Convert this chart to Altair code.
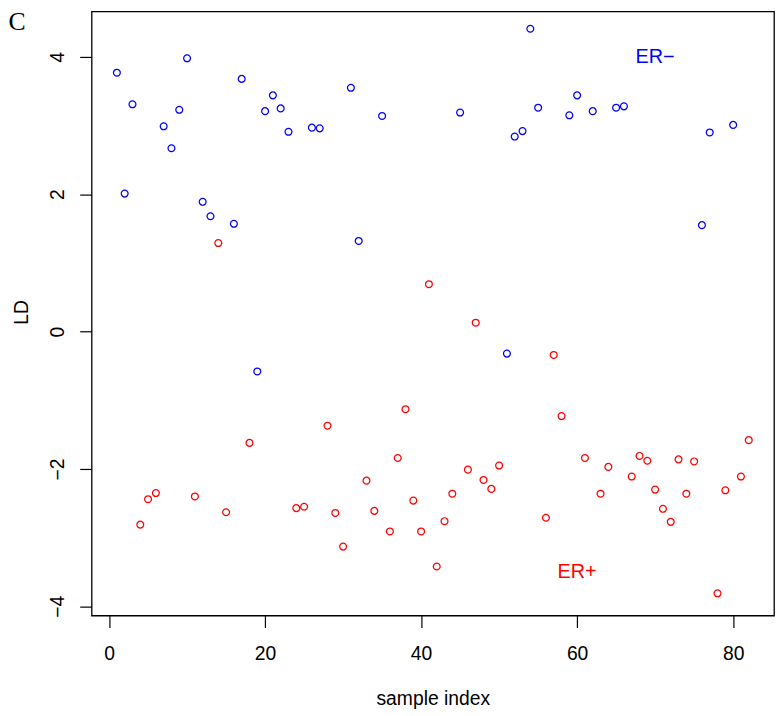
import altair as alt
import pandas as pd

# ---- data ----
sample_index = list(range(1, 83))
ld_values = [
    3.77, 2.01, 3.31, -2.81, -2.44, -2.35, 2.99, 2.67, 3.23, 3.98,
    -2.40, 1.89, 1.68, 1.29, -2.63, 1.57, 3.68, -1.62, -0.58, 3.21,
    3.44, 3.25, 2.91, -2.57, -2.55, 2.97, 2.96, -1.37, -2.64, -3.13,
    3.55, 1.32, -2.17, -2.61, 3.14, -2.91, -1.84, -1.13, -2.46, -2.91,
    0.69, -3.42, -2.76, -2.36, 3.19, -2.01, 0.13, -2.16, -2.29, -1.95,
    -0.32, 2.84, 2.92, 4.41, 3.26, -2.71, -0.34, -1.23, 3.15, 3.44,
    -1.84, 3.21, -2.36, -1.97, 3.26, 3.28, -2.11, -1.81, -1.88, -2.30,
    -2.58, -2.77, -1.86, -2.36, -1.89, 1.55, 2.90, -3.81, -2.31, 3.01,
    -2.11, -1.58,
]
group_codes = (
    "bbbrrrbbbb" "rbbrrbbrbb" "bbbrrbbrrr" "bbrrbrrrrr"
    "rrrrbrrrrr" "bbbbbrrrbb" "rbrrbbrrrr" "rrrrrbbrrb" "rr"
)
groups = ["ER−" if c == "b" else "ER+" for c in group_codes]

label_x = [70, 60]
label_y = [4.0, -3.5]
label_text = ["ER−", "ER+"]
label_color = ["blue", "red"]

x_ticks = [0, 20, 40, 60, 80]
y_ticks = [-4, -2, 0, 2, 4]

df = pd.DataFrame({"index": sample_index, "LD": ld_values, "group": groups})
df_lab = pd.DataFrame({"x": label_x, "y": label_y, "text": label_text, "color": label_color})

FONT = "Liberation Sans"
FS = 19.5

xscale = alt.Scale(domain=[-2.24, 85.24], nice=False, zero=False)
yscale = alt.Scale(domain=[-4.134, 4.663], nice=False, zero=False)

points = alt.Chart(df).mark_point(
    shape="circle", filled=False, size=48, strokeWidth=1.25, opacity=1
).encode(
    x=alt.X(
        "index:Q",
        scale=xscale,
        axis=alt.Axis(
            values=x_ticks,
            title="sample index",
            format="d",
            labelBaseline="alphabetic",
            labelPadding=32.3,
            titleY=90,
            titleBaseline="alphabetic",
        ),
    ),
    y=alt.Y(
        "LD:Q",
        scale=yscale,
        axis=alt.Axis(
            values=y_ticks,
            title="LD",
            format="d",
            labelAngle=-90,
            labelAlign="center",
            labelBaseline="alphabetic",
            labelPadding=16,
            titleAngle=-90,
            titleX=-65,
            titleY=303.5,
            titleAlign="center",
            titleBaseline="alphabetic",
        ),
    ),
    color=alt.Color(
        "group:N",
        scale=alt.Scale(domain=["ER−", "ER+"], range=["blue", "red"]),
        legend=None,
    ),
)

labels = alt.Chart(df_lab).mark_text(
    font=FONT, fontSize=20, align="center", baseline="middle"
).encode(
    x=alt.X("x:Q", scale=xscale),
    y=alt.Y("y:Q", scale=yscale),
    text="text:N",
    color=alt.Color("color:N", scale=None),
)

panel_letter = alt.Chart(pd.DataFrame({"t": ["C"]})).mark_text(
    font="Liberation Serif", fontSize=26, align="left", baseline="top", color="black"
).encode(
    x=alt.value(-84),
    y=alt.value(-2),
    text="t:N",
)

chart = alt.layer(points, labels, panel_letter).properties(
    width=689,
    height=610,
    padding={"left": 84.4, "top": 0, "right": 2, "bottom": 96},
    autosize=alt.AutoSizeParams(type="none"),
    background="white",
).configure_view(
    stroke="black", strokeWidth=1.3
).configure_axis(
    domain=False,
    grid=False,
    tickSize=12,
    tickColor="black",
    tickWidth=1.2,
    labelFont=FONT,
    labelFontSize=FS,
    labelColor="black",
    titleFont=FONT,
    titleFontSize=FS,
    titleFontWeight="normal",
    titleColor="black",
)

chart.save("out.html", embed_options={"renderer": "svg", "actions": False})
